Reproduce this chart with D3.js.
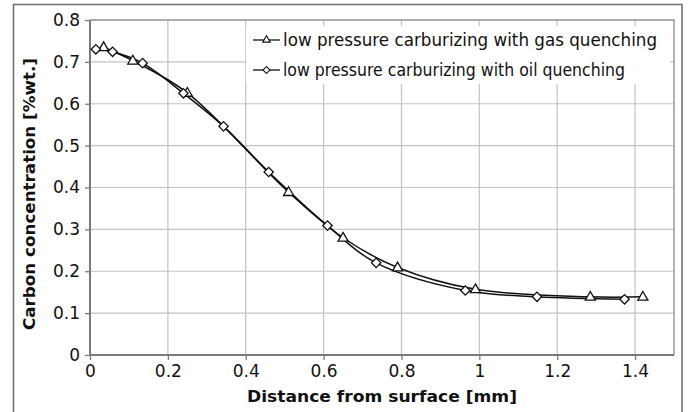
<!DOCTYPE html>
<html><head><meta charset="utf-8">
<script src="https://cdn.jsdelivr.net/npm/d3@7"></script>
<style>body{margin:0;background:#fff}svg{display:block}text{font-family:"DejaVu Sans",Verdana,sans-serif;fill:#111}</style>
</head><body><svg id="c" width="688" height="412"></svg>
<script>
const gasX = [0.035, 0.11, 0.25, 0.51, 0.65, 0.79, 0.99, 1.285, 1.42];
const gasY = [0.735, 0.703, 0.626, 0.389, 0.280, 0.209, 0.157, 0.139, 0.139];
const oilX = [0.015, 0.058, 0.135, 0.24, 0.343, 0.459, 0.61, 0.735, 0.964, 1.148, 1.373];
const oilY = [0.730, 0.724, 0.697, 0.625, 0.546, 0.437, 0.309, 0.220, 0.154, 0.139, 0.133];
const xTicks = [0, 0.2, 0.4, 0.6, 0.8, 1, 1.2, 1.4];
const yTicks = [0, 0.1, 0.2, 0.3, 0.4, 0.5, 0.6, 0.7, 0.8];
const seriesNames = ["low pressure carburizing with gas quenching", "low pressure carburizing with oil quenching"];
const xTitle = "Distance from surface [mm]";
const yTitle = "Carbon concentration [%wt.]";

const svg = d3.select("#c");
const L = 90, R = 674, T = 20, B = 355;
const x = d3.scaleLinear().domain([0, 1.5]).range([L, R]);
const y = d3.scaleLinear().domain([0, 0.8]).range([B, T]);

// outer frame
svg.append("rect").attr("x", 13.5).attr("y", 4.5).attr("width", 668.5).attr("height", 420)
  .attr("fill", "none").attr("stroke", "#6e6e6e").attr("stroke-width", 1.5);

// grid
svg.append("g").selectAll("line").data(xTicks.slice(1)).join("line")
  .attr("x1", d => x(d)).attr("x2", d => x(d)).attr("y1", T).attr("y2", B)
  .attr("stroke", "#c4c4c4").attr("stroke-width", 1.2);
svg.append("g").selectAll("line").data(yTicks.slice(1)).join("line")
  .attr("x1", L).attr("x2", R).attr("y1", d => y(d)).attr("y2", d => y(d))
  .attr("stroke", "#c4c4c4").attr("stroke-width", 1.2);
svg.append("path").attr("d", `M${L},${T}H${R}V${B}`).attr("fill", "none")
  .attr("stroke", "#9a9a9a").attr("stroke-width", 1.5);

// axes
const fmt = d => d === 0 ? "0" : (d === 1 ? "1" : d3.format(".1f")(d));
const xa = svg.append("g").attr("transform", `translate(0,${B})`)
  .call(d3.axisBottom(x).tickValues(xTicks).tickFormat(fmt).tickSize(5).tickPadding(5));
const ya = svg.append("g").attr("transform", `translate(${L},0)`)
  .call(d3.axisLeft(y).tickValues(yTicks).tickFormat(fmt).tickSize(5).tickPadding(5));
[xa, ya].forEach(a => {
  a.select(".domain").attr("stroke", "#7a7a7a").attr("stroke-width", 2);
  a.selectAll(".tick line").attr("stroke", "#7a7a7a").attr("stroke-width", 1.3);
  a.selectAll("text").attr("font-family", "DejaVu Sans").attr("font-size", 17).attr("fill", "#1a1a1a");
});
ya.select(".domain").attr("d", `M0,${B}V${T}`);
xa.select(".domain").attr("d", `M${L},0H${R}`);

// titles
svg.append("text").attr("x", (L + R) / 2).attr("y", 402).attr("text-anchor", "middle")
  .attr("font-weight", "bold").attr("font-size", 16).attr("textLength", 270)
  .attr("lengthAdjust", "spacingAndGlyphs").text(xTitle);
svg.append("text").attr("transform", "translate(35,194) rotate(-90)").attr("text-anchor", "middle")
  .attr("font-weight", "bold").attr("font-size", 16).attr("textLength", 272)
  .attr("lengthAdjust", "spacingAndGlyphs").text(yTitle);

// lines
const line = d3.line().x(d => x(d[0])).y(d => y(d[1])).curve(d3.curveCatmullRom.alpha(0.5));
const gas = gasX.map((v, i) => [v, gasY[i]]);
const oil = oilX.map((v, i) => [v, oilY[i]]);
[gas, oil].forEach(s => svg.append("path").datum(s).attr("d", line)
  .attr("fill", "none").attr("stroke", "#111").attr("stroke-width", 1.5));

const tri = d3.symbol().type(d3.symbolTriangle).size(44);
const dia = d3.symbol().type(d3.symbolSquare).size(44);
svg.append("g").selectAll("path").data(gas).join("path")
  .attr("transform", d => `translate(${x(d[0])},${y(d[1]) + 0.5})`).attr("d", tri)
  .attr("fill", "#fff").attr("stroke", "#111").attr("stroke-width", 1.3);
svg.append("g").selectAll("path").data(oil).join("path")
  .attr("transform", d => `translate(${x(d[0])},${y(d[1])}) rotate(45)`).attr("d", dia)
  .attr("fill", "#fff").attr("stroke", "#111").attr("stroke-width", 1.3);

// legend
const lg = svg.append("g");
lg.append("rect").attr("x", 246).attr("y", 26).attr("width", 424).attr("height", 58).attr("fill", "#fff");
const rows = [40, 70];
seriesNames.forEach((n, i) => {
  const yy = rows[i];
  lg.append("line").attr("x1", 253).attr("x2", 280).attr("y1", yy).attr("y2", yy)
    .attr("stroke", "#111").attr("stroke-width", 1.3);
  lg.append("path").attr("d", i === 0 ? d3.symbol().type(d3.symbolTriangle).size(24)() : d3.symbol().type(d3.symbolSquare).size(24)())
    .attr("transform", i === 0 ? `translate(266.5,${yy})` : `translate(266.5,${yy}) rotate(45)`)
    .attr("fill", "#fff").attr("stroke", "#111").attr("stroke-width", 1.1);
  lg.append("text").attr("x", 283).attr("y", yy + 6).attr("font-size", 17)
    .attr("textLength", i === 0 ? 374 : 342).attr("lengthAdjust", "spacingAndGlyphs").text(n);
});
</script></body></html>
